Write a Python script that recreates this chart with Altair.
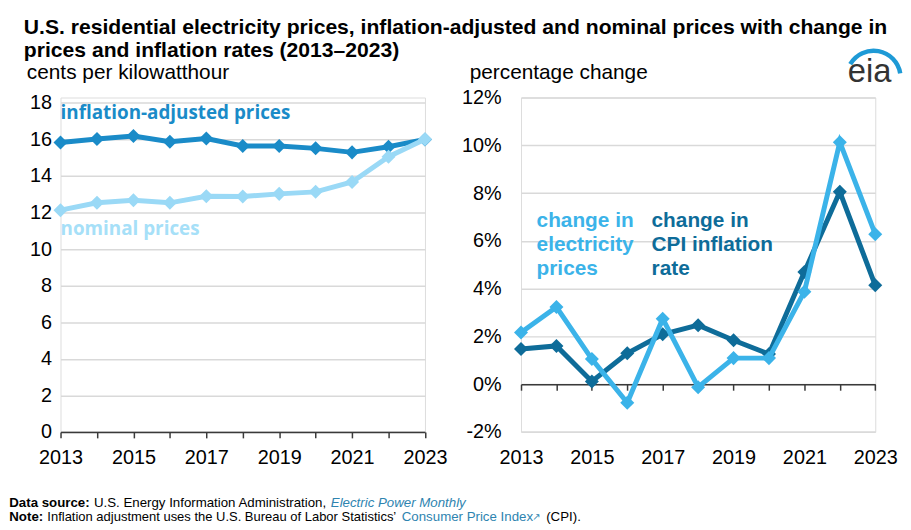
import altair as alt
import pandas as pd

# ---------------- data ----------------
years = list(range(2013, 2024))
real_prices = [15.83, 16.02, 16.18, 15.87, 16.05, 15.64, 15.64, 15.51, 15.29, 15.60, 16.00]
nominal_prices = [12.13, 12.53, 12.67, 12.53, 12.89, 12.88, 13.02, 13.13, 13.67, 15.05, 16.01]
elec_change = [2.16, 3.23, 1.05, -0.78, 2.74, -0.13, 1.09, 1.09, 3.87, 10.13, 6.28]
cpi_change = [1.47, 1.60, 0.11, 1.29, 2.09, 2.47, 1.84, 1.26, 4.70, 8.05, 4.14]
left_ticks = [0, 2, 4, 6, 8, 10, 12, 14, 16, 18]
right_ticks = [-2, 0, 2, 4, 6, 8, 10, 12]

title_lines = [
    "U.S. residential electricity prices, inflation-adjusted and nominal prices with change in",
    "prices and inflation rates (2013\u20132023)",
]
left_unit = "cents per kilowatthour"
right_unit = "percentage change"

# ---------------- style ----------------
C_REAL = "#1a8bc8"
C_NOM = "#9ad9f6"
C_ELEC = "#3bb3e9"
C_CPI = "#0e6c99"
C_GRID = "#d9d9d9"
C_AX = "#3a3a3a"
C_LINK = "#2e84b0"
FONT = "Liberation Sans"
FN = 13.4  # footnote size

W1, W2, H = 367.7, 357.4, 337.4
LX0, RX0, TOP = 59.0, 523.3, 96.0   # page position of plot origins (for annotation placement)

one = pd.DataFrame({"k": [0]})


def txt(text, px, py, x0, size=20, weight="normal", color="#000", font=FONT,
        style="normal", align="left", line_height=None):
    kw = dict(align=align, baseline="alphabetic", font=font, fontSize=size,
              fontWeight=weight, fontStyle=style, color=color)
    if line_height is not None:
        kw["lineHeight"] = line_height
    return alt.Chart(one).mark_text(**kw).encode(
        x=alt.value(px - x0), y=alt.value(py - TOP), text=alt.value(text)
    )


def x_enc(label_padding, offset=0):
    return alt.X(
        "year:Q",
        scale=alt.Scale(domain=[2013, 2023], nice=False, zero=False),
        axis=alt.Axis(
            values=years,
            labelExpr="datum.value % 2 == 1 ? '' + datum.value : ''",
            title=None, grid=False, domain=True, domainColor=C_AX, domainWidth=1.5,
            ticks=True, tickColor=C_AX, tickSize=6, tickWidth=1.5,
            labelPadding=label_padding, labelFontSize=20, labelFont=FONT,
            labelColor="#000", labelOverlap=False, labelBound=False, labelFlush=False,
            offset=offset,
        ),
    )


def y_enc(field, domain, ticks, label_padding, expr):
    return alt.Y(
        f"{field}:Q",
        scale=alt.Scale(domain=domain, nice=False, zero=False),
        axis=alt.Axis(
            values=ticks, labelExpr=expr, title=None, domain=False, ticks=False,
            tickSize=0, grid=True, gridColor=C_GRID, gridWidth=1.5,
            labelPadding=label_padding, labelFontSize=20, labelFont=FONT, labelColor="#000",
        ),
    )


def series(values, color, xe, ye):
    df = pd.DataFrame({"year": years, "v": values})
    base = alt.Chart(df).encode(x=xe, y=ye)
    return base.mark_line(color=color, strokeWidth=5) + base.mark_point(
        shape="diamond", filled=True, size=200, opacity=1, color=color
    )


# ---------------- left panel ----------------
xl = x_enc(9.5)
yl = y_enc("v", [0, 18.29], left_ticks, 9, "'' + datum.value")

left = alt.layer(
    series(real_prices, C_REAL, xl, yl),
    series(nominal_prices, C_NOM, xl, yl),
    txt("inflation-adjusted prices", 59, 117.7, LX0, size=19, weight="bold",
        color=C_REAL, font="Open Sans"),
    txt("nominal prices", 59, 234.5, LX0, size=19, weight="bold",
        color="#a6e0f8", font="Open Sans"),
    txt(title_lines[0], 22, 31.7, LX0, size=21.3, weight="bold"),
    txt(title_lines[1], 22, 55, LX0, size=21.3, weight="bold"),
    txt(left_unit, 25, 77.7, LX0, size=21),
    # footnotes
    txt("Data source:", 7.3, 509, LX0, size=FN, weight="bold"),
    txt("U.S. Energy Information Administration,", 92.7, 509, LX0, size=FN),
    txt("Electric Power Monthly", 331.7, 509, LX0, size=FN, style="italic", color=C_LINK),
    txt("Note:", 7.3, 523.5, LX0, size=FN, weight="bold"),
    txt("Inflation adjustment uses the U.S. Bureau of Labor Statistics\u2019", 45.7, 523.5, LX0, size=13.1),
    txt("Consumer Price Index", 403.3, 523.5, LX0, size=FN, color=C_LINK),
    txt("\u2197", 535, 522, LX0, size=10, color=C_LINK, font="DejaVu Sans"),
    txt("(CPI).", 549, 523.5, LX0, size=FN),
).properties(width=W1, height=H)

# ---------------- right panel ----------------
xr = x_enc(57.9, offset=-48.1)
yr = y_enc("v", [-2, 12], right_ticks, 20, "datum.value + '%'")

logo_arc = alt.Chart(one).mark_arc(
    theta=5.24, theta2=7.69, innerRadius=25, outerRadius=29.5, color="#1e9ad6"
).encode(x=alt.value(879 - RX0), y=alt.value(76 - TOP))

right = alt.layer(
    series(cpi_change, C_CPI, xr, yr),
    series(elec_change, C_ELEC, xr, yr),
    txt(["change in", "electricity", "prices"], 539, 226.5, RX0, size=21,
        weight="bold", color=C_ELEC, line_height=24.5),
    txt(["change in", "CPI inflation", "rate"], 655, 226.5, RX0, size=21,
        weight="bold", color=C_CPI, line_height=24.5),
    txt(right_unit, 471.5, 77, RX0, size=21),
    logo_arc,
    txt("eia", 875, 80, RX0, size=33, color="#333333", align="center"),
).properties(width=W2, height=H)

chart = alt.hconcat(left, right, spacing=RX0 - LX0 - W1, bounds="flush").properties(
    padding={"left": 0, "top": 6, "right": 0, "bottom": 0}
).configure_view(stroke=None).configure(background="white")

chart.save("out.html", embed_options={"renderer": "svg", "actions": False})
